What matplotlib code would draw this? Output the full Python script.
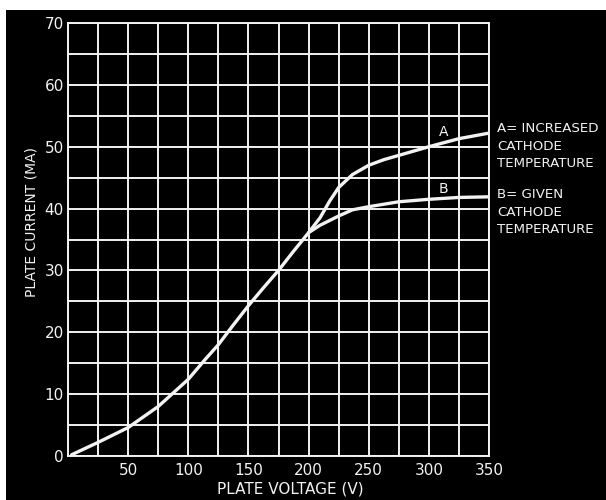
"""Plate current vs plate voltage for two cathode temperatures."""

import matplotlib
matplotlib.use("Agg")
import matplotlib.pyplot as plt
from matplotlib.patches import Rectangle

# shared part of the curve (below ~200 V both curves coincide)
v_common = [3, 25, 37.5, 50, 62.5, 75, 87.5, 100, 114, 125, 137.5, 150,
            162.5, 175, 187.5, 200]
i_common = [0.2, 2.2, 3.4, 4.6, 6.3, 8.0, 10.2, 12.4, 15.6, 18.0, 21.2, 24.3,
            27.2, 30.0, 33.1, 36.1]

# curve A: increased cathode temperature
v_a = [209.5, 217.5, 225, 236.5, 250, 262.5, 275, 300, 325, 350]
i_a = [38.5, 41.2, 43.4, 45.5, 47.0, 47.9, 48.6, 50.0, 51.3, 52.2]

# curve B: given cathode temperature
v_b = [209.5, 225, 236.5, 250, 275, 300, 325, 350]
i_b = [37.3, 38.8, 39.8, 40.3, 41.1, 41.5, 41.8, 41.9]

x_ticks = [50, 100, 150, 200, 250, 300, 350]
y_ticks = [0, 10, 20, 30, 40, 50, 60, 70]

W, H = 606, 500
fig = plt.figure(figsize=(W / 100, H / 100), dpi=100, facecolor="white")
fig.patches.append(Rectangle((6 / W, 0), 1, 1 - 10 / H, transform=fig.transFigure,
                             facecolor="black", edgecolor="none", zorder=-10))

ax = fig.add_axes([68 / W, 1 - 456 / H, 421 / W, 433 / H])
ax.set_facecolor("black")

fg = "#f2f2f2"
lw_curve = 2.4
ax.plot(v_common + v_a, i_common + i_a, color=fg, lw=lw_curve,
        solid_joinstyle="round", solid_capstyle="round", zorder=3)
ax.plot(v_common[-1:] + v_b, i_common[-1:] + i_b, color=fg, lw=lw_curve,
        solid_joinstyle="round", solid_capstyle="round", zorder=3)

ax.set_xlim(0, 350)
ax.set_ylim(0, 70)
ax.set_xticks(x_ticks)
ax.set_yticks(y_ticks)
ax.set_xticks(range(0, 351, 25), minor=True)
ax.set_yticks(range(0, 71, 5), minor=True)
ax.grid(True, which="both", color=fg, lw=1.4, zorder=1)
ax.tick_params(which="both", length=0, colors=fg, labelsize=11)
ax.tick_params(axis="x", pad=5)
ax.tick_params(axis="y", pad=3)
for s in ax.spines.values():
    s.set_color(fg)
    s.set_linewidth(1.4)

ax.set_xlabel("PLATE VOLTAGE (V)", color=fg, fontsize=11)
ax.xaxis.set_label_coords((290 - 68) / 421, -0.058)
ax.set_ylabel("PLATE CURRENT (MA)", color=fg, fontsize=10)
ax.yaxis.set_label_coords(-0.069, 0.54)

ax.text(312.5, 52.4, "A", color=fg, fontsize=10, ha="center", va="center")
ax.text(312.5, 43.1, "B", color=fg, fontsize=10, ha="center", va="center")

side = ax.get_yaxis_transform()
ax.text(1.02, 50.1, "A= INCREASED\nCATHODE\nTEMPERATURE", transform=side,
        color=fg, fontsize=9.6, ha="left", va="center", linespacing=1.45, clip_on=False)
ax.text(1.02, 39.4, "B= GIVEN\nCATHODE\nTEMPERATURE", transform=side,
        color=fg, fontsize=9.6, ha="left", va="center", linespacing=1.45, clip_on=False)

fig.savefig("out.png", dpi=100, facecolor=fig.get_facecolor())
